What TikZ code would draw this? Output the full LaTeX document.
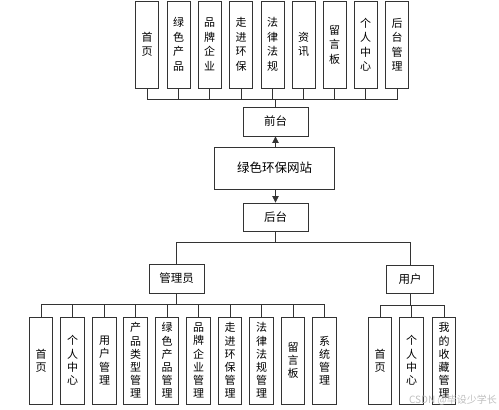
\documentclass[tikz,border=0pt]{standalone}
\usepackage{fontspec}
\newfontfamily\cjk{Noto Sans CJK SC}
\usetikzlibrary{arrows.meta}
\begin{document}
\begin{tikzpicture}[x=1pt,y=-1pt,
  box/.style={draw=black!80, line width=0.9pt, inner sep=0pt, align=center},
  topv/.style={box, minimum width=23pt, minimum height=87pt, font=\cjk\fontsize{11}{14.5}\selectfont},
  botv/.style={box, minimum width=23.5pt, minimum height=87pt, font=\cjk\fontsize{11}{13.2}\selectfont},
  hbox/.style={box, font=\cjk\fontsize{11.5}{14}\selectfont},
  conn/.style={draw=black!80, line width=0.8pt},
  arr/.style={conn, -{Triangle[length=6.5pt,width=6.5pt]}}
]
\useasboundingbox (0,0) rectangle (499,410);
% top row
\node[topv] (t1) at (147,44.5) {首\\页};
\node[topv] (t2) at (178.5,44.5) {绿\\色\\产\\品};
\node[topv] (t3) at (209.5,44.5) {品\\牌\\企\\业};
\node[topv] (t4) at (241,44.5) {走\\进\\环\\保};
\node[topv] (t5) at (272.5,44.5) {法\\律\\法\\规};
\node[topv] (t6) at (303.5,44.5) {资\\讯};
\node[topv] (t7) at (334.5,44.5) {留\\言\\板};
\node[topv] (t8) at (365.5,44.5) {个\\人\\中\\心};
\node[topv] (t9) at (397,44.5) {后\\台\\管\\理};
% middle
\node[hbox, minimum width=65pt, minimum height=29pt] (qt) at (275.5,121.5) {前台};
\node[hbox, minimum width=120pt, minimum height=42pt, font=\cjk\fontsize{12.5}{15}\selectfont] (web) at (274.5,168) {绿色环保网站};
\node[hbox, minimum width=65pt, minimum height=28pt] (ht) at (275.5,217) {后台};
\node[hbox, minimum width=55pt, minimum height=29pt] (gly) at (176.5,278.5) {管理员};
\node[hbox, minimum width=47pt, minimum height=28pt] (yh) at (410,279) {用户};
% admin children
\node[botv] (a1) at (41,360.5) {首\\页};
\node[botv] (a2) at (72.5,360.5) {个\\人\\中\\心};
\node[botv] (a3) at (104.5,360.5) {用\\户\\管\\理};
\node[botv] (a4) at (135.5,360.5) {产\\品\\类\\型\\管\\理};
\node[botv] (a5) at (167,360.5) {绿\\色\\产\\品\\管\\理};
\node[botv] (a6) at (198.5,360.5) {品\\牌\\企\\业\\管\\理};
\node[botv] (a7) at (230,360.5) {走\\进\\环\\保\\管\\理};
\node[botv] (a8) at (261.5,360.5) {法\\律\\法\\规\\管\\理};
\node[botv] (a9) at (293,360.5) {留\\言\\板};
\node[botv] (a10) at (324.5,360.5) {系\\统\\管\\理};
% user children
\node[botv] (u1) at (380,360.5) {首\\页};
\node[botv] (u2) at (411.5,360.5) {个\\人\\中\\心};
\node[botv] (u3) at (444,360.5) {我\\的\\收\\藏\\管\\理};
% connectors top
\coordinate (tb) at (275.5,99);
\draw[conn] (qt.north) -- (tb);
\foreach \i in {1,...,9} \draw[conn] (t\i.south) |- (tb);
\draw[arr] (web.north -| qt.south) -- (qt.south);
\draw[arr] (web.south -| ht.north) -- (ht.north);
% connectors bottom
\coordinate (hb) at (275.5,242);
\draw[conn] (ht.south) -- (hb);
\draw[conn] (gly.north) |- (hb);
\draw[conn] (yh.north) |- (hb);
\coordinate (gb) at (176.5,304);
\draw[conn] (gly.south) -- (gb);
\foreach \i in {1,...,10} \draw[conn] (a\i.north) |- (gb);
\coordinate (ub) at (410,305);
\draw[conn] (yh.south) -- (ub);
\foreach \i in {1,2,3} \draw[conn] (u\i.north) |- (ub);
% watermark
\node[text=black!25, font=\cjk\fontsize{10}{12}\selectfont, inner sep=0pt] (wm) at (453,400) {CSDN @毕设少学长};
\end{tikzpicture}
\end{document}
